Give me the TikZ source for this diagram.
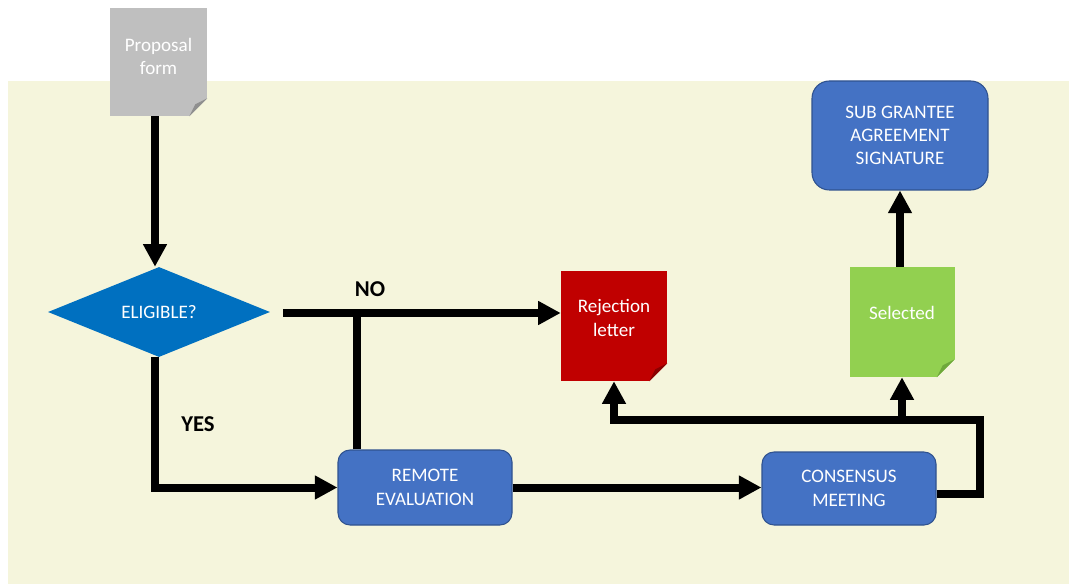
\documentclass[tikz,border=0pt]{standalone}
\usepackage{fontspec}
\setmainfont{Carlito}
\usetikzlibrary{arrows.meta,shapes.geometric}
\definecolor{bgc}{HTML}{F5F5DC}
\definecolor{boxblue}{HTML}{4472C4}
\definecolor{boxedge}{HTML}{2F528F}
\definecolor{diamblue}{HTML}{0070C0}
\definecolor{rejred}{HTML}{C00000}
\definecolor{rejfold}{HTML}{8A0000}
\definecolor{selgreen}{HTML}{92D050}
\definecolor{selfold}{HTML}{6EA83A}
\definecolor{propgray}{HTML}{BFBFBF}
\definecolor{propfold}{HTML}{8F8F8F}
\newcommand\docfold[2]{%
  \fill[bgc] (#1.south east) -- ++(-18,0) -- ++(18,-18) -- cycle;
  \fill[#2] ([xshift=-13.5pt]#1.south east) -- ([yshift=13.5pt]#1.south east) -- ([xshift=-9pt,yshift=9pt]#1.south east) -- cycle;}
\begin{document}
\begin{tikzpicture}[x=0.75pt,y=-0.75pt,
  boxtext/.style={text=white,font=\fontsize{14.3}{17.5}\selectfont,align=center},
  stepbox/.style={boxtext,rectangle,rounded corners=9pt,fill=boxblue,draw=boxedge,line width=0.8pt,inner sep=0},
  docbox/.style={rectangle,inner sep=0,minimum width=79.5pt,minimum height=82.5pt},
  lbl/.style={font=\bfseries\fontsize{17}{20}\selectfont,text=black},
  conn/.style={line width=6pt,black},
  arr/.style={conn,-{Triangle[length=17pt,width=17pt]}}]
\useasboundingbox (0,0) rectangle (1069,584);
\fill[bgc] (8,81) rectangle (1069,584);

% document shapes
\node[docbox,fill=propgray,minimum width=72.75pt,minimum height=81pt] (prop) at (158.5,62) {};
\docfold{prop}{propfold}
\node[boxtext] (propt) at ([yshift=4pt]prop.center) {Proposal\\form};

\node[docbox,fill=rejred] (rej) at (614,326) {};
\docfold{rej}{rejfold}
\node[boxtext] (rejt) at ([yshift=6pt]rej.center) {Rejection\\letter};

\node[docbox,fill=selgreen,minimum width=78.75pt] (sel) at (902,322) {};
\docfold{sel}{selfold}
\node[boxtext] (selt) at ([yshift=7pt]sel.center) {Selected};

% decision
\node[diamond,fill=diamblue,inner sep=0,aspect=2.4,minimum width=166.5pt,minimum height=67.5pt,boxtext] (elig) at (159,312) {ELIGIBLE?};

% process boxes
\node[stepbox,minimum width=130.5pt,minimum height=56.25pt] (remote) at (425,487.5) {REMOTE\\EVALUATION};
\node[stepbox,minimum width=130.5pt,minimum height=54.75pt] (cons) at (849,488.5) {CONSENSUS\\MEETING};
\node[stepbox,rounded corners=13pt,minimum width=132pt,minimum height=81.75pt] (sub) at (900,135.5) {SUB GRANTEE\\AGREEMENT\\SIGNATURE};

% labels
\node[lbl] (yes) at (198,424) {YES};
\node[lbl] (no) at (370,289) {NO};

% connectors
\coordinate (nostart) at (283,313);
\coordinate (nojoin) at (357,313);
\coordinate (cr) at (980,420);
\draw[arr] (prop.south -| 155,0) -- (elig.north -| 155,0);
\draw[arr] (elig.south -| 155,0) |- (remote.west);
\draw[arr] (nostart) -- (rej.west |- nostart);
\draw[conn] (remote.north -| nojoin) -- ([yshift=-3pt]nojoin);
\draw[arr] (remote.east) -- (remote.east -| cons.west);
\draw[arr] ([yshift=-4pt]cons.east) -| (cr) -| (rej.south);
\draw[arr] (sel.south |- cr) -- (sel.south);
\draw[arr] (sub.south |- sel.north) -- (sub.south);
\end{tikzpicture}
\end{document}
